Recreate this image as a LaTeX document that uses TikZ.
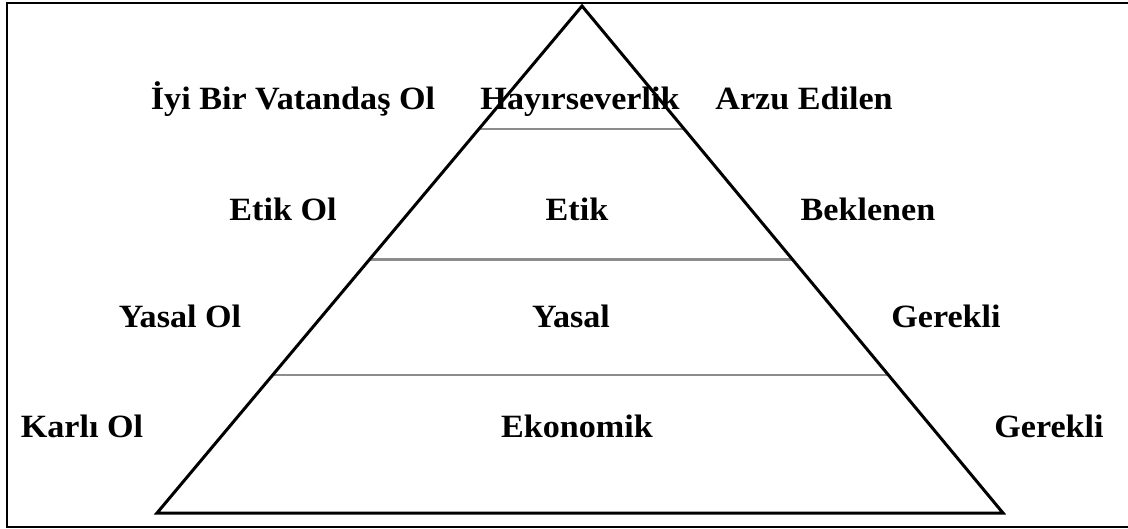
\documentclass[tikz,border=0pt]{standalone}
\usepackage{fontspec}
\setmainfont{Liberation Serif}
\usetikzlibrary{calc}
\tikzset{
  lbl/.style={font=\fontsize{32.5}{36}\selectfont\bfseries, anchor=base, inner sep=0pt, text=black},
  side/.style={line width=3pt, black, line join=miter},
  band/.style={line width=2.4pt, black!45},
  frame/.style={line width=2pt, black}
}
\newcommand{\wt}[1]{\scalebox{1.05}[1]{#1}}
\begin{document}
\begin{tikzpicture}[x=1pt,y=-1pt]
\useasboundingbox (0,0) rectangle (1128,529);
\draw[frame] (1129,3) -- (7,3) -- (7,527) -- (1129,527);
\coordinate (A) at (582,6);
\coordinate (L) at (157,513);
\coordinate (R) at (1003,513);
\coordinate (l1) at ($(A)!0.2421!(L)$);
\coordinate (r1) at ($(A)!0.2421!(R)$);
\coordinate (l2) at ($(A)!0.5!(L)$);
\coordinate (r2) at ($(A)!0.5!(R)$);
\coordinate (l3) at ($(A)!0.7283!(L)$);
\coordinate (r3) at ($(A)!0.7283!(R)$);
\draw[band] (l1) -- (r1);
\draw[band] (l2) -- (r2);
\draw[band] (l3) -- (r3);
% row 1
\node[lbl] (c1) at (293,110) {\wt{İyi Bir Vatandaş Ol}};
\node[lbl] (m1) at (580,110) {\wt{Hayırseverlik}};
\node[lbl] (e1) at (804,110) {\wt{Arzu Edilen}};
% row 2
\node[lbl] (c2) at (283,221) {\wt{Etik Ol}};
\node[lbl] (m2) at (577,221) {\wt{Etik}};
\node[lbl] (e2) at (868,221) {\wt{Beklenen}};
% row 3
\node[lbl] (c3) at (180,328) {\wt{Yasal Ol}};
\node[lbl] (m3) at (571,328) {\wt{Yasal}};
\node[lbl] (e3) at (946,328) {\wt{Gerekli}};
% row 4
\node[lbl] (c4) at (82,437) {\wt{Karlı Ol}};
\node[lbl] (m4) at (577,437) {\wt{Ekonomik}};
\node[lbl] (e4) at (1049,437) {\wt{Gerekli}};
\draw[side] (L) -- (A) -- (R) -- cycle;
\end{tikzpicture}
\end{document}
